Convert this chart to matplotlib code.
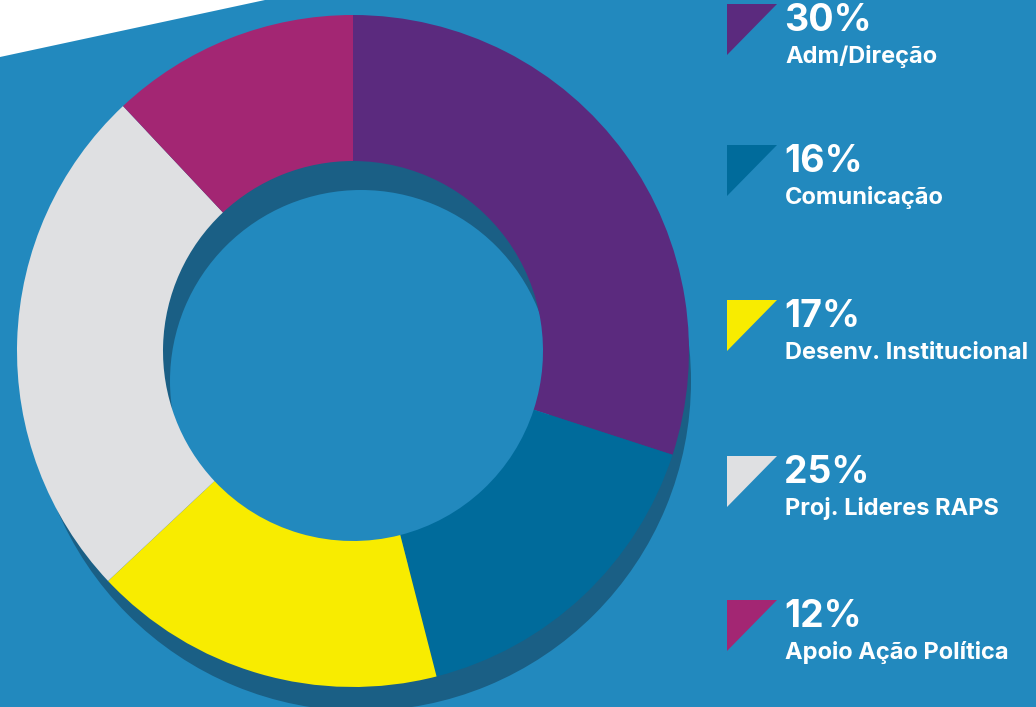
import matplotlib
matplotlib.use('Agg')
import matplotlib.pyplot as plt
from matplotlib.patches import Polygon

categorias = ['Adm/Direção', 'Comunicação', 'Desenv. Institucional',
              'Proj. Lideres RAPS', 'Apoio Ação Política']
percentuais = [30, 16, 17, 25, 12]
cores = ['#5B2A7E', '#006B9B', '#F8EC00', '#DFE0E2', '#A32673']

fundo = '#2289BE'
sombra = '#1A5F85'
W, H = 1036, 707

fig = plt.figure(figsize=(W / 100, H / 100), dpi=100, facecolor=fundo)
ax = fig.add_axes([0, 0, 1, 1])
ax.set_facecolor(fundo)

# faixa branca no canto superior esquerdo
ax.add_patch(Polygon([(0, H), (265, H), (0, H - 57)], closed=True,
                     facecolor='white', edgecolor='none'))

# sombra do anel, deslocada para baixo
ax.pie([1], colors=[sombra], radius=330, center=(361, H - 381),
       wedgeprops=dict(width=139, linewidth=0), frame=True)

# anel principal
ax.pie(percentuais, colors=cores, startangle=90, counterclock=False,
       radius=336, center=(353, H - 351),
       wedgeprops=dict(width=146, linewidth=0), frame=True)

# legenda com triangulos
topos = [4, 145, 300, 456, 600]
fonte = ['Inter', 'DejaVu Sans']
for cat, pct, cor, top in zip(categorias, percentuais, cores, topos):
    ax.add_patch(Polygon([(727, H - top), (777, H - top), (727, H - top - 51)],
                         closed=True, facecolor=cor, edgecolor='none'))
    ax.text(784, H - top - 27, f'{pct}%', color='white', fontsize=27,
            fontweight='bold', family=fonte, va='baseline', ha='left')
    ax.text(785, H - top - 59, cat, color='white', fontsize=17,
            fontweight='bold', family=fonte, va='baseline', ha='left')

ax.set_xlim(0, W)
ax.set_ylim(0, H)
ax.set_aspect('equal')
ax.axis('off')

plt.savefig('out.png', dpi=100, facecolor=fundo)
